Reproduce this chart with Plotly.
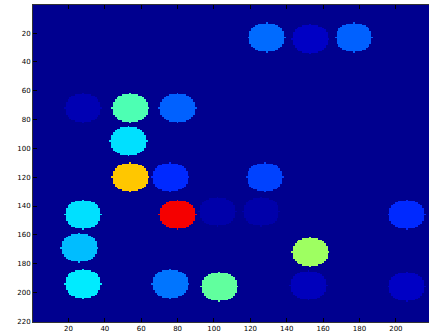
import numpy as np
import plotly.graph_objects as go

# Blob data (image pixel coordinates, colour value on a 0..1 jet scale)
blob_x = [129, 153, 177, 28, 54, 80, 53, 54, 76, 128, 28, 80, 102, 126, 206, 26, 153, 28, 76, 103, 152, 206]
blob_y = [23, 24, 23, 72, 72, 72, 95, 120, 120, 120, 146, 146, 144, 144, 146, 169, 172, 194, 194, 196, 195, 196]
blob_v = [0.23, 0.06, 0.22, 0.04, 0.45, 0.22, 0.345, 0.68, 0.165, 0.19, 0.345, 0.885, 0.03, 0.03,
          0.165, 0.31, 0.53, 0.355, 0.24, 0.47, 0.05, 0.06]
blob_radius = 10
img_size = 220
tick_vals = [20, 40, 60, 80, 100, 120, 140, 160, 180, 200, 220]
tick_text = [str(t) for t in tick_vals]

# Rasterise the blobs into an image table
cols = np.arange(1, img_size + 1)
rows = np.arange(1, img_size + 1)
XX, YY = np.meshgrid(cols, rows)
z = np.zeros((img_size, img_size))
for bx, by, bv in zip(blob_x, blob_y, blob_v):
    mask = (XX - bx) ** 2 + (YY - by) ** 2 <= blob_radius ** 2
    z[mask] = bv

jet = [
    [0.0, "rgb(0,0,143)"],
    [0.125, "rgb(0,0,255)"],
    [0.375, "rgb(0,255,255)"],
    [0.625, "rgb(255,255,0)"],
    [0.875, "rgb(255,0,0)"],
    [1.0, "rgb(128,0,0)"],
]

fig = go.Figure(go.Heatmap(
    x=cols, y=rows, z=z, zmin=0, zmax=1, colorscale=jet,
    zsmooth=False, showscale=False, hoverinfo="skip",
))

axis_font = dict(family="DejaVu Sans", size=7, color="black")
fig.update_layout(
    width=429, height=336,
    margin=dict(l=33, r=0, t=5, b=14),
    paper_bgcolor="white", plot_bgcolor="rgb(0,0,143)",
    xaxis=dict(range=[0.5, 218.2], tickvals=tick_vals, ticktext=tick_text,
               ticks="inside", ticklen=4, tickcolor="black", showgrid=False,
               zeroline=False, showline=True, linecolor="#333", linewidth=1,
               mirror="ticks", tickfont=axis_font),
    yaxis=dict(range=[220.5, 0.5], tickvals=tick_vals, ticktext=tick_text,
               ticks="inside", ticklen=4, tickcolor="black", showgrid=False,
               zeroline=False, showline=True, linecolor="#333", linewidth=1,
               mirror=False, tickfont=axis_font),
)

fig.write_html("out.html", config={"displayModeBar": False},
               post_script="document.body.style.margin='0px';")
